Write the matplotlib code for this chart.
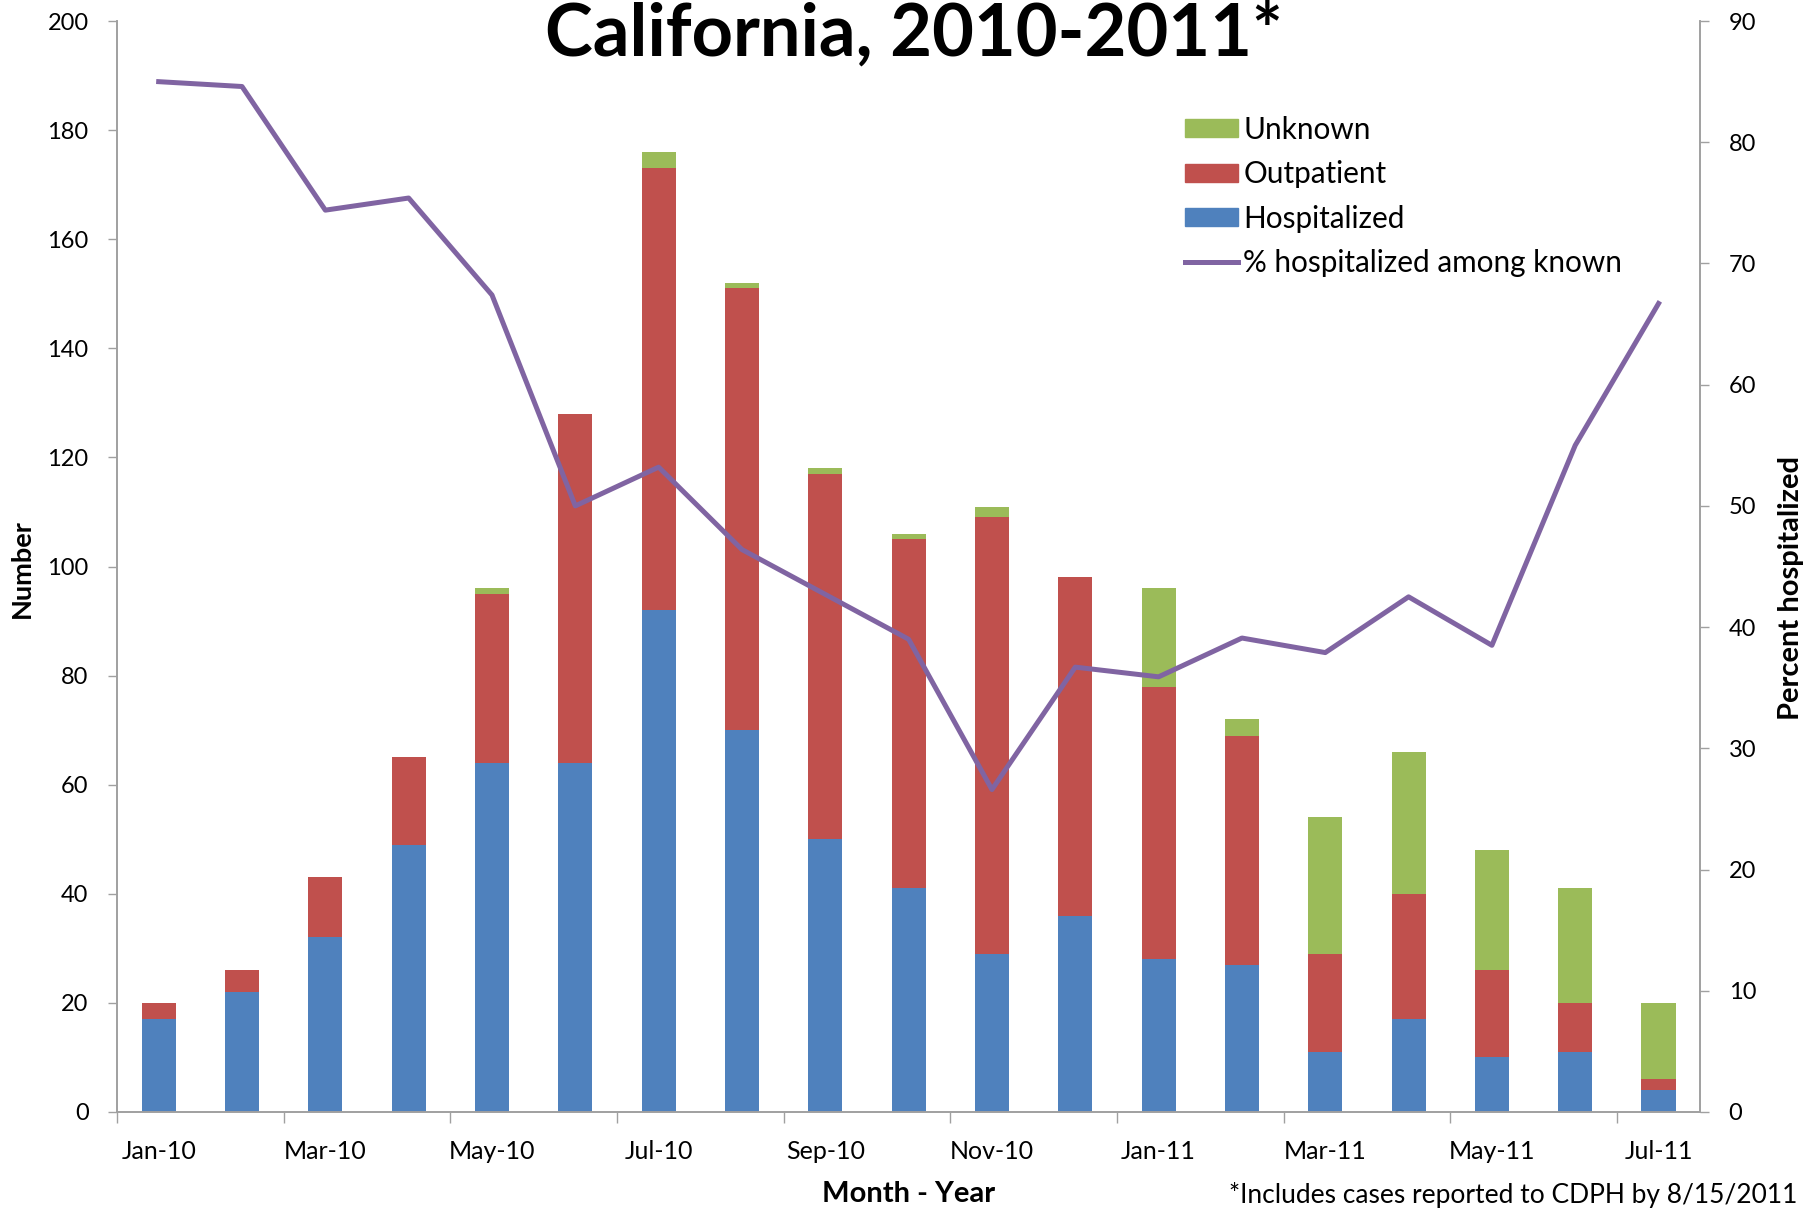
import matplotlib
matplotlib.use("Agg")
import matplotlib.pyplot as plt
from matplotlib.patches import Patch
from matplotlib.lines import Line2D

plt.rcParams['font.family'] = ['Lato', 'DejaVu Sans']

months = ["Jan-10", "Feb-10", "Mar-10", "Apr-10", "May-10", "Jun-10", "Jul-10",
          "Aug-10", "Sep-10", "Oct-10", "Nov-10", "Dec-10", "Jan-11", "Feb-11",
          "Mar-11", "Apr-11", "May-11", "Jun-11", "Jul-11"]
hospitalized = [17, 22, 32, 49, 64, 64, 92, 70, 50, 41, 29, 36, 28, 27, 11, 17, 10, 11, 4]
outpatient = [3, 4, 11, 16, 31, 64, 81, 81, 67, 64, 80, 62, 50, 42, 18, 23, 16, 9, 2]
unknown = [0, 0, 0, 0, 1, 0, 3, 1, 1, 1, 2, 0, 18, 3, 25, 26, 22, 21, 14]
pct_hosp = [85.0, 84.6, 74.4, 75.4, 67.4, 50.0, 53.2, 46.4, 42.7, 39.0, 26.6,
            36.7, 35.9, 39.1, 37.9, 42.5, 38.5, 55.0, 66.7]

c_hosp = "#4F81BD"
c_out = "#C0504D"
c_unk = "#9BBB59"
c_line = "#8064A2"
spine_c = "#A0A0A0"

fig = plt.figure(figsize=(18.03, 12.10), dpi=100)
ax = fig.add_axes([0.0649, 0.081, 0.943 - 0.0649, 0.9826 - 0.081])
x = list(range(len(months)))
w = 0.41
ax.bar(x, hospitalized, w, color=c_hosp, zorder=2)
ax.bar(x, outpatient, w, bottom=hospitalized, color=c_out, zorder=2)
bot3 = [a + b for a, b in zip(hospitalized, outpatient)]
ax.bar(x, unknown, w, bottom=bot3, color=c_unk, zorder=2)

ax.set_xlim(-0.5, len(months) - 0.5)
ax.set_ylim(0, 200)
ax.set_yticks(range(0, 201, 20))
ax.set_xticks([i - 0.5 for i in range(0, len(months), 2)])
ax.set_xticklabels([])
ax.set_xticks(list(range(0, len(months), 2)), minor=True)
ax.set_xticklabels(months[::2], minor=True)
ax.tick_params(axis='x', which='major', length=8, width=1, color=spine_c, direction='out')
ax.tick_params(axis='x', which='minor', length=0, pad=20, labelsize=18)
ax.tick_params(axis='y', length=6.5, width=1, color=spine_c, pad=14, labelsize=17)
ax.spines['top'].set_visible(False)
for s in ['left', 'bottom', 'right']:
    ax.spines[s].set_color(spine_c)
    ax.spines[s].set_linewidth(1.2)

ax2 = ax.twinx()
ax2.plot(x, pct_hosp, color=c_line, lw=3.6, zorder=3)
ax2.set_ylim(0, 90)
ax2.set_yticks(range(0, 91, 10))
ax2.tick_params(axis='y', length=6.5, width=1, color=spine_c, pad=14, labelsize=17)
ax2.spines['top'].set_visible(False)
for s in ['left', 'bottom', 'right']:
    ax2.spines[s].set_color(spine_c)
    ax2.spines[s].set_linewidth(1.2)

handles = [Patch(color=c_unk), Patch(color=c_out), Patch(color=c_hosp),
           Line2D([0], [0], color=c_line, lw=3.6)]
labels = ["Unknown", "Outpatient", "Hospitalized", "% hospitalized among known"]
ax2.legend(handles, labels, loc='upper left', bbox_to_anchor=(0.667, 0.924),
           frameon=False, fontsize=21.4, handlelength=1.78, handleheight=0.55,
           handletextpad=0.18, labelspacing=0.55, borderaxespad=0)

fig.text(0.507, 0.9985, "California, 2010-2011*", ha='center', va='top',
         fontsize=52, fontweight='bold')
fig.text(0.012, 0.530, "Number", rotation=90, ha='center', va='center',
         fontsize=19.5, fontweight='bold')
fig.text(0.504, 0.013, "Month - Year", ha='center', va='center',
         fontsize=21, fontweight='bold')
fig.text(0.9935, 0.514, "Percent hospitalized", rotation=90, ha='center', va='center',
         fontsize=21, fontweight='bold')
fig.text(0.997, 0.002, "*Includes cases reported to CDPH by 8/15/2011", ha='right',
         va='bottom', fontsize=19)

fig.savefig("out.png", dpi=100)
